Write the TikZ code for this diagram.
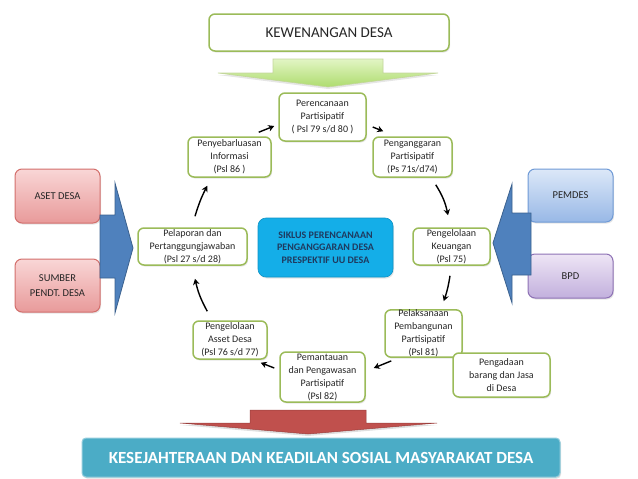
\documentclass[tikz,border=0pt]{standalone}
\usepackage{fontspec}
\setmainfont{Carlito}
\usetikzlibrary{arrows.meta,shadows}

\definecolor{hijau}{HTML}{9BBB59}
\definecolor{hijaumuda}{HTML}{E2F5C4}
\definecolor{hijautua}{HTML}{AEDC6E}
\definecolor{merah}{HTML}{C0504D}
\definecolor{pinkmuda}{HTML}{F9D6D6}
\definecolor{pinktua}{HTML}{E89A9A}
\definecolor{pinkgaris}{HTML}{D36F6C}
\definecolor{birumuda}{HTML}{DCE8F8}
\definecolor{birusedang}{HTML}{98B8E6}
\definecolor{birugaris}{HTML}{6F9AD6}
\definecolor{ungumuda}{HTML}{EEE5F5}
\definecolor{ungutua}{HTML}{C2B0DD}
\definecolor{ungugaris}{HTML}{8E72B5}
\definecolor{birupanah}{HTML}{4F81BD}
\definecolor{birusiklus}{HTML}{14AEE8}
\definecolor{birutua}{HTML}{1F3A5F}
\definecolor{tosca}{HTML}{4BACC6}

\tikzset{
  tahap/.style={draw=hijau, line width=1.5pt, fill=white, rounded corners=6pt,
    inner sep=0pt, align=center, text=black!85,
    font=\fontsize{10}{13}\selectfont,
    drop shadow={opacity=0.2, shadow xshift=1pt, shadow yshift=-1.5pt}},
  sisi/.style={line width=1pt, rounded corners=7pt, inner sep=0pt, align=center,
    minimum width=85pt, text=black!85, font=\fontsize{10.5}{14.5}\selectfont,
    drop shadow={opacity=0.2, shadow xshift=1pt, shadow yshift=-1.5pt}},
  putar/.style={line width=1.4pt, -{Stealth[length=6pt,width=6.5pt]}},
  panah/.style={fill=birupanah, draw=birupanah!75!black, line width=0.8pt},
}

\begin{document}
\begin{tikzpicture}[x=1pt,y=-1pt]
  \useasboundingbox (0,0) rectangle (638,479);

  % atas
  \node[tahap, font=\fontsize{15}{17}\selectfont, minimum width=240pt, minimum height=37pt] (kew) at (329,32.5) {KEWENANGAN DESA};
  \path[top color=hijaumuda, bottom color=hijautua, draw=hijau!60, line width=0.6pt,
    drop shadow={opacity=0.2, shadow xshift=0pt, shadow yshift=-2pt}]
    (273,59) -- (383,59) -- (383,73) -- (438,73) -- (328,87) -- (218,73) -- (273,73) -- cycle;

  % siklus
  \node[tahap, minimum width=87pt, minimum height=48pt] (rencana) at (322.5,117) {Perencanaan\\Partisipatif\\( Psl 79 s/d 80 )};
  \node[tahap, minimum width=83pt, minimum height=40pt] (sebar) at (229.5,157) {Penyebarluasan\\Informasi\\(Psl 86 )};
  \node[tahap, minimum width=79pt, minimum height=40pt] (anggar) at (412.5,157) {Penganggaran\\Partisipatif\\(Ps 71s/d74)};
  \node[tahap, minimum width=109pt, minimum height=37pt] (lapor) at (192.5,246.5) {Pelaporan dan\\Pertanggungjawaban\\(Psl 27 s/d 28)};
  \node[tahap, minimum width=77pt, minimum height=37pt] (kelola) at (451.5,246.5) {Pengelolaan\\Keuangan\\(Psl 75)};
  \node[tahap, minimum width=77pt, minimum height=47pt] (laksana) at (423.5,333.5) {Pelaksanaan\\Pembangunan\\Partisipatif\\(Psl 81)};
  \node[tahap, minimum width=97pt, minimum height=44pt] (adaan) at (501.5,375) {Pengadaan\\barang dan Jasa\\di Desa};
  \node[tahap, minimum width=85pt, minimum height=50pt] (pantau) at (322.5,377) {Pemantauan\\dan Pengawasan\\Partisipatif\\(Psl 82)};
  \node[tahap, minimum width=74pt, minimum height=38pt] (aset) at (230,340) {Pengelolaan\\Asset  Desa\\(Psl 76 s/d 77)};

  \node[fill=birusiklus, draw=birusiklus!85!black, line width=0.6pt, rounded corners=8pt,
    minimum width=135pt, minimum height=59pt, inner sep=0pt, align=center, text=birutua,
    font=\bfseries\fontsize{10}{12.5}\selectfont,
    drop shadow={opacity=0.2, shadow xshift=1pt, shadow yshift=-1.5pt}] (siklus) at (325.5,247.5)
    {SIKLUS PERENCANAAN\\PENGANGGARAN DESA\\PRESPEKTIF UU DESA};

  % panah siklus
  \draw[putar] ([xshift=-13pt,yshift=4pt]sebar.north east) -- ([xshift=-4pt,yshift=-9pt]rencana.west);
  \draw[putar] ([xshift=6pt,yshift=-10pt]rencana.east) -- ([xshift=11pt,yshift=5pt]anggar.north west);
  \draw[putar] ([xshift=-17pt,yshift=-7pt]anggar.south east) to[bend left=10] ([xshift=-3.5pt,yshift=12pt]kelola.north);
  \draw[putar] ([xshift=-1.5pt,yshift=-10pt]kelola.south) to[bend left=5] ([xshift=-19pt,yshift=8pt]laksana.north east);
  \draw[putar] ([xshift=7pt,yshift=-3pt]laksana.south west) -- ([xshift=8pt,yshift=9pt]pantau.east);
  \draw[putar] ([xshift=-5pt,yshift=9pt]pantau.west) -- ([xshift=-7pt,yshift=-3pt]aset.south east);
  \draw[putar] ([xshift=15pt,yshift=9pt]aset.north west) to[bend left=8] ([xshift=2.5pt,yshift=-13pt]lapor.south);
  \draw[putar] ([xshift=2.5pt,yshift=11pt]lapor.north) to[bend left=5] ([xshift=20pt,yshift=-8pt]sebar.south west);

  % kiri
  \node[sisi, draw=pinkgaris, top color=pinkmuda, bottom color=pinktua, minimum height=54pt] (asetdesa) at (57.5,196) {ASET DESA};
  \node[sisi, draw=pinkgaris, top color=pinkmuda, bottom color=pinktua, minimum height=53pt] (sumber) at (57.5,285.5) {SUMBER\\PENDT. DESA};
  \path[panah] (100,215) -- (115,215) -- (115,183) -- (133,248) -- (115,313) -- (115,278) -- (100,278) -- cycle;

  % kanan
  \node[sisi, draw=birugaris, top color=birumuda, bottom color=birusedang, minimum height=53pt] (pemdes) at (570.5,195.5) {PEMDES};
  \node[sisi, draw=ungugaris, top color=ungumuda, bottom color=ungutua, minimum height=44pt] (bpd) at (570.5,276) {BPD};
  \path[panah] (531,213) -- (512,213) -- (512,184) -- (493,243) -- (512,303) -- (512,275) -- (531,275) -- cycle;

  % bawah
  \path[fill=merah, draw=merah!80!black, line width=0.5pt,
    drop shadow={opacity=0.25, shadow xshift=0pt, shadow yshift=-2pt}]
    (250,410) -- (366,410) -- (366,423) -- (437,423) -- (308,434) -- (180,423) -- (250,423) -- cycle;
  \node[fill=tosca, draw=tosca!60, line width=1pt, rounded corners=4pt, minimum width=478pt,
    minimum height=39pt, inner sep=0pt, text=white, font=\bfseries\fontsize{17}{19}\selectfont,
    drop shadow={opacity=0.25, shadow xshift=1pt, shadow yshift=-1.5pt}] (sejahtera) at (321,457.5)
    {KESEJAHTERAAN DAN KEADILAN SOSIAL MASYARAKAT DESA};
\end{tikzpicture}
\end{document}
